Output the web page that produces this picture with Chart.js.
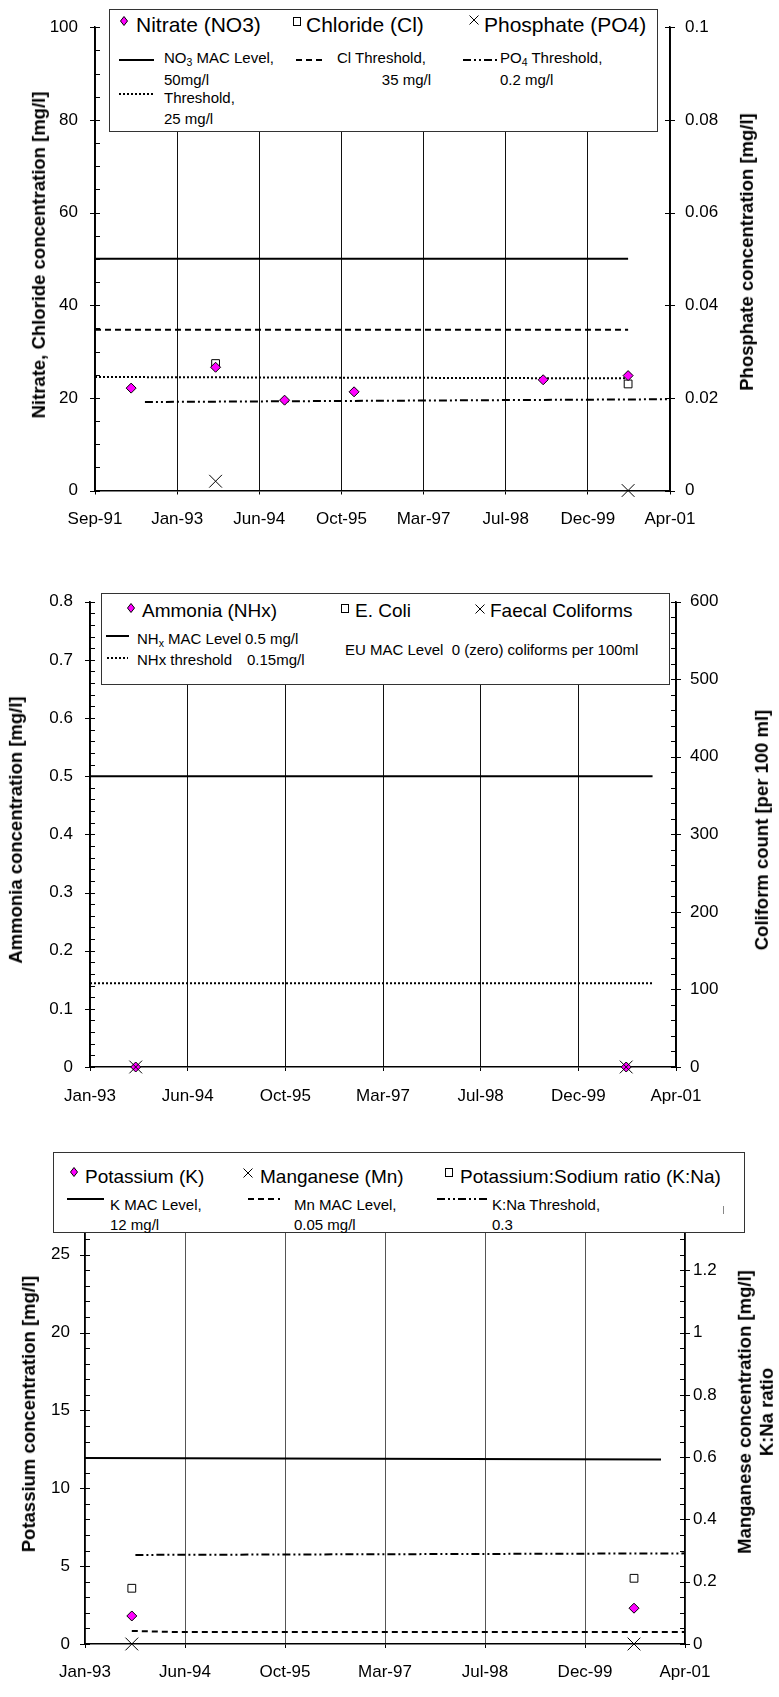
<!DOCTYPE html>
<html><head><meta charset="utf-8">
<script src="https://cdn.jsdelivr.net/npm/chart.js@4.4.1/dist/chart.umd.min.js"></script>
<style>
body{margin:0;background:#fff;}
#page{position:relative;width:779px;height:1697px;overflow:hidden;font-family:'Liberation Sans',Arial,sans-serif;color:#000}
canvas{position:absolute;left:0}
.lg{position:absolute;background:#fff;border:1px solid #333;box-sizing:border-box}
.t{position:absolute;white-space:pre;line-height:1.15}
.t sub{font-size:0.7em;vertical-align:-0.25em;line-height:0}
.ttl{position:absolute;font-weight:bold;font-size:18.5px;white-space:nowrap;transform:translate(-50%,-50%) rotate(-90deg);text-align:center;line-height:1.2}
svg{position:absolute;overflow:visible}
</style></head>
<body><div id="page">
<canvas id="c1" width="779" height="545" style="top:0px"></canvas>
<canvas id="c2" width="779" height="565" style="top:545px"></canvas>
<canvas id="c3" width="779" height="587" style="top:1110px"></canvas>
</div>
<script>
// ================= DATA =================
// ---- Chart 1: Nitrate / Chloride / Phosphate ----
const c1XTickDates  = ['1991-09-19','1993-01-31','1994-06-15','1995-10-28','1997-03-11','1998-07-24','1999-12-06','2001-04-19'];
const c1XTickLabels = ['Sep-91','Jan-93','Jun-94','Oct-95','Mar-97','Jul-98','Dec-99','Apr-01'];
const c1LeftTicks   = [0,20,40,60,80,100];
const c1LeftLabels  = ['0','20','40','60','80','100'];
const c1RightTicks  = [0,0.02,0.04,0.06,0.08,0.1];
const c1RightLabels = ['0','0.02','0.04','0.06','0.08','0.1'];
const nitrateDates   = ['1992-04-26','1993-09-22','1994-11-16','1996-01-13','1999-03-09','2000-08-07'];
const nitrateValues  = [22.1, 26.6, 19.5, 21.3, 23.9, 24.8];
const chlorideDates  = ['1993-09-22','2000-08-07'];
const chlorideValues = [27.4, 23.0];
const phosphateDates  = ['1993-09-22','2000-08-07'];
const phosphateValues = [0.002, 0];
const no3MacDates    = ['1991-09-19','2000-08-07'];
const no3MacValues   = [50, 50];
const clThrDates     = ['1991-09-19','2000-08-07'];
const clThrValues    = [34.7, 34.7];
const no3ThrDates    = ['1991-09-19','2000-08-07'];
const no3ThrValues   = [24.5, 24.2];
const po4ThrDates    = ['1992-07-19','2001-04-19'];
const po4ThrValues   = [0.0191, 0.0197];

// ---- Chart 2: Ammonia / coliforms ----
const c2XTickDates  = ['1993-01-31','1994-06-15','1995-10-28','1997-03-11','1998-07-24','1999-12-06','2001-04-19'];
const c2XTickLabels = ['Jan-93','Jun-94','Oct-95','Mar-97','Jul-98','Dec-99','Apr-01'];
const c2LeftTicks   = [0,0.1,0.2,0.3,0.4,0.5,0.6,0.7,0.8];
const c2LeftLabels  = ['0','0.1','0.2','0.3','0.4','0.5','0.6','0.7','0.8'];
const c2RightTicks  = [0,100,200,300,400,500,600];
const c2RightLabels = ['0','100','200','300','400','500','600'];
const ammoniaDates  = ['1993-09-22','2000-08-07'];
const ammoniaValues = [0, 0];
const eColiDates    = [];
const eColiValues   = [];
const faecalDates   = ['1993-09-22','2000-08-07'];
const faecalValues  = [0, 0];
const nhxMacDates   = ['1993-01-31','2000-12-20'];
const nhxMacValues  = [0.5, 0.5];
const nhxThrDates   = ['1993-01-31','2000-12-20'];
const nhxThrValues  = [0.144, 0.144];

// ---- Chart 3: Potassium / Manganese / K:Na ----
const c3XTickDates  = ['1993-01-31','1994-06-15','1995-10-28','1997-03-11','1998-07-24','1999-12-06','2001-04-19'];
const c3XTickLabels = ['Jan-93','Jun-94','Oct-95','Mar-97','Jul-98','Dec-99','Apr-01'];
const c3LeftTicks   = [0,5,10,15,20,25];
const c3LeftLabels  = ['0','5','10','15','20','25'];
const c3RightTicks  = [0,0.2,0.4,0.6,0.8,1,1.2];
const c3RightLabels = ['0','0.2','0.4','0.6','0.8','1','1.2'];
const potassiumDates  = ['1993-09-22','2000-08-07'];
const potassiumValues = [1.8, 2.3];
const manganeseDates  = ['1993-09-22','2000-08-07'];
const manganeseValues = [0, 0];
const kNaDates        = ['1993-09-22','2000-08-07'];
const kNaValues       = [0.179, 0.211];
const kMacDates       = ['1993-01-31','2000-12-20'];
const kMacValues      = [11.95, 11.85];
const mnMacDates      = ['1993-09-22','1994-05-01','2001-04-19'];
const mnMacValues     = [0.042, 0.0385, 0.0385];
const kNaThrDates     = ['1993-10-10','2001-04-19'];
const kNaThrValues    = [0.286, 0.291];

// ================= HELPERS =================
const FONT = "'Liberation Sans', Arial, sans-serif";
function toDays(iso){const [y,m,d]=iso.split('-').map(Number);return (Date.UTC(y,m-1,d)-Date.UTC(1899,11,30))/86400000;}
function pts(dates, vals){return dates.map((d,i)=>({x:toDays(d),y:vals[i]}));}
const DASH = [6,4], DOT = [2,2], DASHDOT = [8,3,2,3,2,3];

const tickMarks = {
  id:'tickMarks',
  afterDraw(chart, args, opts){
    const ctx = chart.ctx; ctx.save(); ctx.strokeStyle='#000'; ctx.lineWidth=1;
    (opts.axes||[]).forEach(a=>{
      const s = chart.scales[a.id];
      const x0 = a.side==='left' ? s.right : s.left;
      const dir = a.side==='left' ? 1 : -1;
      const n = Math.round((s.max - s.min)/a.minor);
      for(let i=0;i<=n;i++){
        const v = s.min + i*a.minor;
        const r = v/a.major;
        const major = Math.abs(r-Math.round(r))<1e-6;
        const y = Math.round(s.getPixelForValue(v))+0.5;
        ctx.beginPath();
        if(major){ctx.moveTo(x0-5,y);ctx.lineTo(x0+5,y);}
        else {ctx.moveTo(x0,y);ctx.lineTo(x0+5*dir,y);}
        ctx.stroke();
      }
    });
    ctx.restore();
  }
};

function pointDs(data, axis, style, radius, bg, order){
  return {data, yAxisID:axis, pointStyle:style, pointRadius:radius, pointHoverRadius:radius,
    backgroundColor:bg, borderColor:'#000', borderWidth:1, showLine:false, clip:false, order};
}
function lineDs(data, axis, dash, width){
  return {data, yAxisID:axis, showLine:true, pointRadius:0, borderColor:'#000', backgroundColor:'#000',
    borderWidth:width||2, borderDash:dash||[], fill:false, tension:0, order:5};
}

function makeChart(id, c){
  const tickFont = {size:17, family:FONT};
  return new Chart(document.getElementById(id), {
    type:'scatter',
    data:{datasets:c.datasets},
    options:{
      responsive:false, animation:false, events:[], devicePixelRatio:1,
      layout:{padding:{top:c.top,left:0,right:0,bottom:0}},
      plugins:{legend:{display:false}, tooltip:{enabled:false}, tickMarks:{axes:c.marks}},
      scales:{
        x:{type:'linear', position:'bottom', min:toDays(c.xTicks[0]), max:toDays(c.xTicks[c.xTicks.length-1]),
          afterBuildTicks:s=>{s.ticks=c.xTicks.map(d=>({value:toDays(d)}));},
          afterFit:s=>{s.height=c.xHeight;},
          ticks:{callback:(v,i)=>c.xLabels[i], font:tickFont, color:'#000', padding:c.xPad, maxRotation:0, minRotation:0, autoSkip:false},
          grid:{color:c.gridColor, lineWidth:1, drawTicks:true, tickLength:4, tickColor:'#000'},
          border:{color:'#000', width:1.5}},
        yL:{type:'linear', position:'left', min:0, max:c.lMax,
          afterBuildTicks:s=>{s.ticks=c.lTicks.map(v=>({value:v}));},
          afterFit:s=>{s.width=c.leftW;},
          ticks:{callback:(v,i)=>c.lLabels[i], font:tickFont, color:'#000', padding:c.lPad, autoSkip:false},
          grid:{drawOnChartArea:false, drawTicks:false},
          border:{color:'#000', width:1.5}},
        yR:{type:'linear', position:'right', min:0, max:c.rMax,
          afterBuildTicks:s=>{s.ticks=c.rTicks.map(v=>({value:v}));},
          afterFit:s=>{s.width=c.rightW;},
          ticks:{callback:(v,i)=>c.rLabels[i], font:tickFont, color:'#000', padding:c.rPad, autoSkip:false},
          grid:{drawOnChartArea:false, drawTicks:false},
          border:{color:'#000', width:1.5}}
      }
    },
    plugins:[tickMarks]
  });
}

// ================= CHARTS =================
makeChart('c1', {
  top:23.5, xHeight:54.5, leftW:95, rightW:109, xPad:15, lPad:17, rPad:15, gridColor:'#111',
  xTicks:c1XTickDates, xLabels:c1XTickLabels, lMax:100, lTicks:c1LeftTicks, lLabels:c1LeftLabels,
  rMax:0.1, rTicks:c1RightTicks, rLabels:c1RightLabels,
  marks:[{id:'yL',side:'left',minor:5,major:20},{id:'yR',side:'right',minor:0.02,major:0.02}],
  datasets:[
    pointDs(pts(nitrateDates,nitrateValues),'yL','rectRot',5,'#ff00ff',0),
    pointDs(pts(chlorideDates,chlorideValues),'yL','rect',5.5,'#ffffff',1),
    pointDs(pts(phosphateDates,phosphateValues),'yR','crossRot',9,'#000',1),
    lineDs(pts(no3MacDates,no3MacValues),'yL',[],2),
    lineDs(pts(clThrDates,clThrValues),'yL',DASH,2),
    lineDs(pts(no3ThrDates,no3ThrValues),'yL',DOT,2),
    lineDs(pts(po4ThrDates,po4ThrValues),'yR',DASHDOT,2)
  ]
});
makeChart('c2', {
  top:56.7, xHeight:43, leftW:90, rightW:103, xPad:15.3, lPad:17, rPad:14, gridColor:'#111',
  xTicks:c2XTickDates, xLabels:c2XTickLabels, lMax:0.8, lTicks:c2LeftTicks, lLabels:c2LeftLabels,
  rMax:600, rTicks:c2RightTicks, rLabels:c2RightLabels,
  marks:[{id:'yL',side:'left',minor:0.02,major:0.1},{id:'yR',side:'right',minor:20,major:100}],
  datasets:[
    pointDs(pts(faecalDates,faecalValues),'yR','crossRot',9,'#000',0),
    pointDs(pts(ammoniaDates,ammoniaValues),'yL','rectRot',5,'#ff00ff',1),
    pointDs(pts(eColiDates,eColiValues),'yR','rect',5.5,'#ffffff',2),
    lineDs(pts(nhxMacDates,nhxMacValues),'yL',[],2),
    lineDs(pts(nhxThrDates,nhxThrValues),'yL',DOT,2)
  ]
});
makeChart('c3', {
  top:98, xHeight:53, leftW:85, rightW:94, xPad:14.5, lPad:15, rPad:8, gridColor:'#555',
  xTicks:c3XTickDates, xLabels:c3XTickLabels, lMax:28, lTicks:c3LeftTicks, lLabels:c3LeftLabels,
  rMax:1.4, rTicks:c3RightTicks, rLabels:c3RightLabels,
  marks:[{id:'yL',side:'left',minor:1,major:5},{id:'yR',side:'right',minor:0.05,major:0.2}],
  datasets:[
    pointDs(pts(potassiumDates,potassiumValues),'yL','rectRot',5,'#ff00ff',0),
    pointDs(pts(manganeseDates,manganeseValues),'yR','crossRot',9,'#000',1),
    pointDs(pts(kNaDates,kNaValues),'yR','rect',5.5,'#ffffff',1),
    lineDs(pts(kMacDates,kMacValues),'yL',[],2),
    lineDs(pts(mnMacDates,mnMacValues),'yR',DASH,2),
    lineDs(pts(kNaThrDates,kNaThrValues),'yR',DASHDOT,2)
  ]
});

// ================= LEGENDS & TITLES (HTML text) =================
const page = document.getElementById('page');
function add(html){page.insertAdjacentHTML('beforeend', html);}
function box(l,t,r,b){add(`<div class="lg" style="left:${l}px;top:${t}px;width:${r-l}px;height:${b-t}px"></div>`);}
function txt(x,yc,s,fs){add(`<div class="t" style="left:${x}px;top:${yc-0.56*fs}px;font-size:${fs}px">${s}</div>`);}
function txtR(xe,yc,s,fs){add(`<div class="t" style="left:${xe}px;top:${yc-0.56*fs}px;font-size:${fs}px;transform:translateX(-100%)">${s}</div>`);}
function sample(x1,x2,y,dash){const w=x2-x1;add(`<svg style="left:${x1}px;top:${y-3}px" width="${w}" height="6"><line x1="0" y1="3" x2="${w}" y2="3" stroke="#000" stroke-width="2" ${dash?`stroke-dasharray="${dash}"`:''}/></svg>`);}
function diamond(cx,cy){add(`<svg style="left:${cx-4}px;top:${cy-5}px" width="8" height="10"><polygon points="4,0.5 7.5,5 4,9.5 0.5,5" fill="#ff00ff" stroke="#000" stroke-width="1"/></svg>`);}
function square(cx,cy){add(`<svg style="left:${cx-4}px;top:${cy-4.5}px" width="8" height="9"><rect x="0.5" y="0.5" width="7" height="8" fill="#fff" stroke="#000" stroke-width="1"/></svg>`);}
function cross(cx,cy){add(`<svg style="left:${cx-5}px;top:${cy-5}px" width="10" height="10"><path d="M0.5 0.5 L9.5 9.5 M9.5 0.5 L0.5 9.5" stroke="#000" stroke-width="1"/></svg>`);}
function title(cx,cy,s){add(`<div class="ttl" style="left:${cx}px;top:${cy}px">${s}</div>`);}

// Chart 1 legend
box(109,9,658,132);
diamond(124,21); txt(136,24.5,'Nitrate (NO3)',21);
square(297,21);  txt(306,24.5,'Chloride (Cl)',21);
cross(474,20);   txt(484,24.5,'Phosphate (PO4)',21);
sample(119,154,60,''); txt(164,57,'NO<sub>3</sub> MAC Level,',15); txt(164,79,'50mg/l',15);
sample(296,323,60,'6,4'); txt(337,57,'Cl Threshold,',15); txtR(431,79,'35 mg/l',15);
sample(463,497,60,'8,3,2,3,2,3'); txt(500,57,'PO<sub>4</sub> Threshold,',15); txt(500,79,'0.2 mg/l',15);
sample(119,154,94,'2,2'); txt(164,97,'Threshold,',15); txt(164,118,'25 mg/l',15);
title(39,255,'Nitrate, Chloride concentration [mg/l]');
title(747,252,'Phosphate concentration [mg/l]');

// Chart 2 legend
box(101,593,670,685);
diamond(131,608); txt(142,611,'Ammonia (NHx)',19);
square(345,608);  txt(355,611,'E. Coli',19);
cross(480,609);   txt(490,611,'Faecal Coliforms',19);
sample(106,129,636,''); txt(137,638,'NH<sub>x</sub> MAC Level',15); txt(245,638,'0.5 mg/l',15);
sample(107,128,658,'2,2'); txt(137,659,'NHx threshold',15); txt(247,659,'0.15mg/l',15);
txt(345,649,'EU MAC Level  0 (zero) coliforms per 100ml',15);
title(16,830,'Ammonia concentration [mg/l]');
title(762,830,'Coliform count [per 100 ml]');

// Chart 3 legend
box(53,1152,745,1233);
diamond(74,1172); txt(85,1177,'Potassium (K)',19);
cross(248,1173);  txt(260,1177,'Manganese (Mn)',19);
square(449,1172); txt(460,1177,'Potassium:Sodium ratio (K:Na)',19);
sample(67,104,1199,''); txt(110,1204,'K MAC Level,',15); txt(110,1224,'12 mg/l',15);
sample(248,280,1199,'6,4'); txt(294,1204,'Mn MAC Level,',15); txt(294,1224,'0.05 mg/l',15);
sample(437,489,1199,'8,3,2,3,2,3'); txt(492,1204,'K:Na Threshold,',15); txt(492,1224,'0.3',15);
add('<div style="position:absolute;left:723px;top:1206px;width:1px;height:8px;background:#888"></div>');
title(29,1414,'Potassium concentration [mg/l]');
title(756,1412,'Manganese concentration [mg/l]<br>K:Na ratio');
</script>
</body></html>
